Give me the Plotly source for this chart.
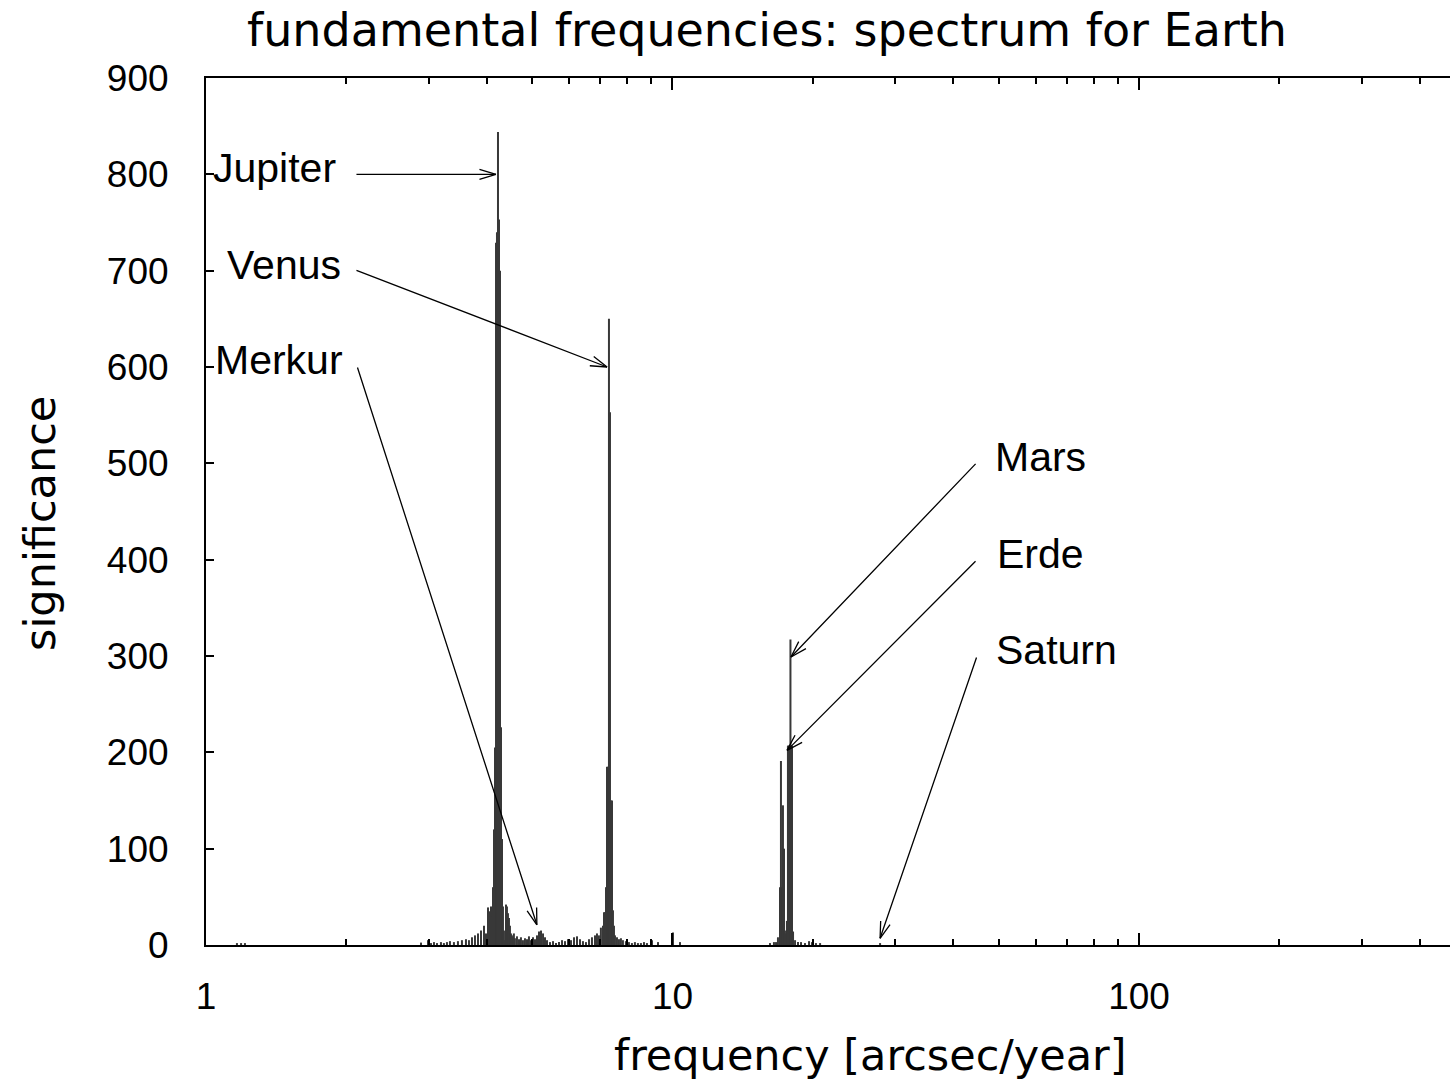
import math
import plotly.graph_objects as go

# ---- data: spectrum (frequency [arcsec/year], significance) ----
freq = [1.165, 1.189, 1.212, 1.996,
        2.890, 2.991, 3.036, 3.081, 3.127, 3.189, 3.236, 3.285, 3.334, 3.400,
        3.468, 3.537, 3.608, 3.662, 3.717, 3.772, 3.829, 3.886, 3.944, 3.983,
        4.023, 4.043, 4.063, 4.083, 4.103, 4.123, 4.144, 4.164, 4.185, 4.205,
        4.226, 4.247, 4.268, 4.289, 4.310, 4.331, 4.352, 4.375, 4.396, 4.417,
        4.439, 4.461, 4.483, 4.505, 4.527, 4.549, 4.571, 4.594, 4.641, 4.688,
        4.733, 4.780, 4.828, 4.876, 4.924, 4.973, 5.023, 5.073, 5.123, 5.174,
        5.226, 5.278, 5.330, 5.383, 5.463, 5.545, 5.627, 5.711, 5.797, 5.883,
        5.970, 6.059, 6.150, 6.241, 6.334, 6.428, 6.524, 6.622, 6.720, 6.821,
        6.888, 6.955, 7.023, 7.096, 7.131, 7.166, 7.201, 7.237, 7.272, 7.308,
        7.345, 7.381, 7.418, 7.454, 7.491, 7.528, 7.603, 7.678, 7.753, 7.830,
        7.946, 8.065, 8.186, 8.307, 8.431, 8.557, 8.687, 8.815, 9.038, 9.310,
        10.025, 10.378,
        16.18, 16.50, 16.67, 16.83, 17.00, 17.08, 17.17, 17.25, 17.34, 17.42,
        17.51, 17.59, 17.68, 17.77, 17.86, 17.90, 17.95, 18.04, 18.13, 18.31,
        18.58, 18.86, 19.23, 19.62, 19.91, 20.30, 20.72, 27.86]
significance = [2, 2, 2, 6,
                2.5, 5, 2, 3, 2, 3, 2, 3, 4, 3,
                4, 5, 6, 5, 8, 10, 12, 15, 20, 12,
                39, 35, 10, 40, 30, 60, 120, 205, 729, 740,
                844, 753, 700, 226, 110, 40, 15, 5, 42, 40,
                33, 28, 20, 12, 10, 8, 12, 7, 9, 6,
                8, 5, 7, 6, 9, 5, 8, 6, 10, 14,
                15, 12, 8, 5, 3, 4, 2, 3, 5, 4,
                6, 5, 8, 9, 6, 4, 3, 6, 8, 10,
                12, 10, 18, 20, 34, 34, 60, 185, 185, 650,
                553, 150, 150, 36, 20, 10, 8, 6, 7, 5,
                4, 3, 2, 3, 2, 2, 3, 2, 5, 3,
                13, 3,
                2, 3, 3, 8, 60, 191, 60, 145, 100, 15,
                12, 25, 207, 207, 207, 317, 207, 207, 14, 5,
                3, 3, 2, 4, 3, 2, 2, 2]

# ---- annotations: planet labels and arrows ----
label_names = ["Jupiter", "Venus", "Merkur", "Mars", "Erde", "Saturn"]
label_f = [1.025, 1.100, 1.034, 48.7, 49.1, 48.9]
label_v = [807, 706, 607, 507, 406, 306]
arrow_start_f = [2.086, 2.086, 2.107, 44.96, 44.96, 44.96]
arrow_start_v = [800, 701, 601, 501, 400, 300]
arrow_tip_f = [4.184, 7.24, 5.12, 17.95, 17.6, 27.86]
arrow_tip_v = [800, 600, 21, 299, 202, 7]

xtick_vals = [1, 10, 100]
xtick_text = ["1", "10", "100"]
xminor_vals = [2, 3, 4, 5, 6, 7, 8, 9, 20, 30, 40, 50, 60, 70, 80, 90, 200, 300, 400, 500]

# ---- layout geometry ----
W_FIG, H_FIG = 1450, 1083
L, T, R, B = 206, 78, 0, 138
PW, PH = W_FIG - L - R, H_FIG - T - B
XR = [0, 2.6667]
YR = [0, 900]


def px(f):
    return L + PW * (math.log10(f) - XR[0]) / (XR[1] - XR[0])


def py(v):
    return T + PH * (1 - (v - YR[0]) / (YR[1] - YR[0]))


# impulses
xs, ys = [], []
for f, s in zip(freq, significance):
    xs += [f, f, None]
    ys += [0, s, None]

fig = go.Figure()
fig.add_trace(go.Scatter(x=xs, y=ys, mode="lines",
                         line=dict(color="#383838", width=2),
                         hoverinfo="skip", showlegend=False))

annotations = []
LABEL_FONT = dict(family="Liberation Sans, Arial, sans-serif", size=41, color="black")
for name, lf, lv in zip(label_names, label_f, label_v):
    annotations.append(dict(x=math.log10(lf), y=lv, xref="x", yref="y", text=name,
                            showarrow=False, xanchor="left", yanchor="middle",
                            font=LABEL_FONT))

HEAD_LEN, HEAD_HW = 18, 5.5
for sf, sv, tf, tv in zip(arrow_start_f, arrow_start_v, arrow_tip_f, arrow_tip_v):
    annotations.append(dict(x=math.log10(tf), y=tv, xref="x", yref="y",
                            ax=math.log10(sf), ay=sv, axref="x", ayref="y",
                            text="", showarrow=True, arrowhead=0,
                            arrowwidth=1.3, arrowcolor="black", standoff=0, startstandoff=0))
    dx, dy = px(tf) - px(sf), py(tv) - py(sv)
    n = math.hypot(dx, dy)
    ux, uy = dx / n, dy / n
    for sgn in (1, -1):
        bx = -HEAD_LEN * ux + sgn * HEAD_HW * (-uy)
        by = -HEAD_LEN * uy + sgn * HEAD_HW * ux
        annotations.append(dict(x=math.log10(tf), y=tv, xref="x", yref="y",
                                ax=bx, ay=by, axref="pixel", ayref="pixel",
                                text="", showarrow=True, arrowhead=0,
                                arrowwidth=1.3, arrowcolor="black", standoff=0, startstandoff=0))

TITLE_FONT = dict(family="DejaVu Sans, sans-serif", size=43, color="black")
annotations.append(dict(text="significance", textangle=-90, showarrow=False,
                        xref="paper", yref="paper",
                        x=(40 - L) / PW, y=1 - (524 - T) / PH,
                        xanchor="center", yanchor="middle", font=TITLE_FONT))
annotations.append(dict(text="frequency [arcsec/year]", showarrow=False,
                        xref="paper", yref="paper",
                        x=(870 - L) / PW, y=1 - (1055 - T) / PH,
                        xanchor="center", yanchor="middle", font=TITLE_FONT))

TICK_FONT = dict(family="Liberation Sans, Arial, sans-serif", size=37, color="black")

fig.update_layout(
    width=W_FIG, height=H_FIG,
    margin=dict(l=L, r=R, t=T, b=B),
    paper_bgcolor="white", plot_bgcolor="white",
    title=dict(text="fundamental frequencies: spectrum for Earth",
               x=767 / W_FIG, xref="container", xanchor="center",
               y=1 - 30 / H_FIG, yref="container", yanchor="middle",
               font=dict(family="DejaVu Sans, sans-serif", size=46, color="black")),
    xaxis=dict(type="log", range=XR, showgrid=False, zeroline=False,
               showline=True, linecolor="black", linewidth=2, mirror="ticks",
               ticks="inside", ticklen=12, tickwidth=1.5, tickcolor="black",
               tickmode="array", tickvals=xtick_vals, ticktext=xtick_text,
               tickfont=TICK_FONT, ticklabelstandoff=18,
               minor=dict(ticks="inside", ticklen=6, tickwidth=1.5, tickcolor="black",
                          tickmode="array", tickvals=xminor_vals, showgrid=False)),
    yaxis=dict(range=YR, showgrid=False, zeroline=False,
               showline=True, linecolor="black", linewidth=2, mirror=False,
               ticks="inside", ticklen=8, tickwidth=1.5, tickcolor="black",
               tickmode="linear", tick0=0, dtick=100,
               tickfont=TICK_FONT, ticklabelstandoff=28),
    annotations=annotations,
    showlegend=False,
)

fig.write_html("out.html")
